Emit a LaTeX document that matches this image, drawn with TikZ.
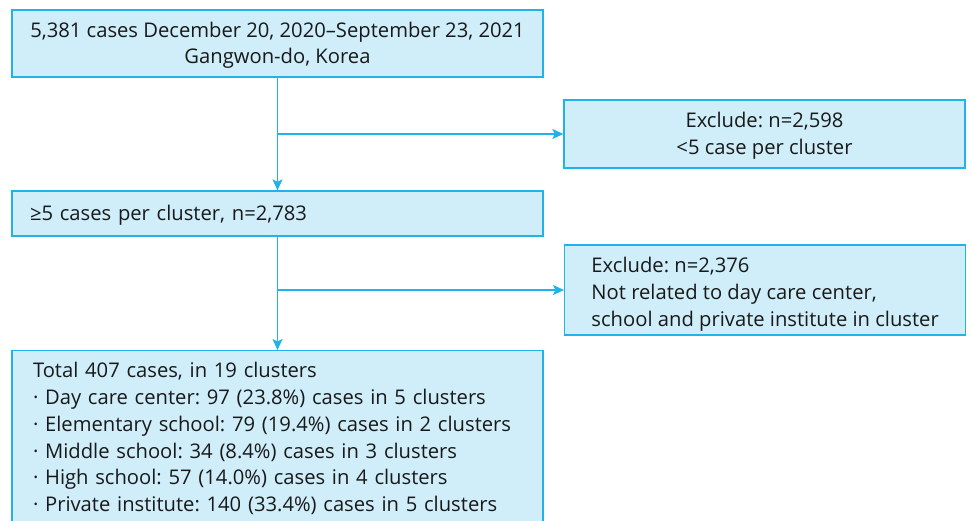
\documentclass[tikz,border=0pt]{standalone}
\usepackage{fontspec}
\setmainfont{Open Sans}
\usetikzlibrary{arrows.meta, positioning}

\definecolor{boxfill}{RGB}{207,238,250}
\definecolor{boxline}{RGB}{32,178,232}

\begin{document}
\frenchspacing
\begin{tikzpicture}[x=1pt, y=-1pt,
  box/.style={draw=boxline, fill=boxfill, line width=1.3pt, rectangle,
    font=\fontsize{20.2}{26.8}\selectfont, text=black!90, inner ysep=0pt},
  arr/.style={draw=boxline, line width=1.3pt, -{Stealth[length=11pt, width=10pt, inset=2.5pt]}}]
  \clip (0,0) rectangle (972,520);
  \fill[white] (0,0) rectangle (972,520);

  \node[box, minimum width=531pt, minimum height=67pt, align=center] (start) at (277.5,43.5)
    {\rule{0pt}{19pt}5,381 cases December 20, 2020--September 23, 2021\\Gangwon-do, Korea};
  \node[box, minimum width=401pt, minimum height=68pt, align=center] (excl1) at (764.5,134)
    {\rule{0pt}{19pt}Exclude: n=2,598\\<5 case per cluster};
  \node[box, inner xsep=18pt, text width=495pt, minimum height=45pt, align=left] (clus) at (277.5,213.5)
    {\rule{0pt}{18pt}≥5 cases per cluster, n=2,783};
  \node[box, anchor=west, inner xsep=22pt, minimum width=401pt, minimum height=90pt, align=left] (excl2) at (564,290)
    {\rule{0pt}{24pt}Exclude: n=2,376\\Not related to day care center,\\school and private institute in cluster};
  \node[box, anchor=north, inner xsep=21pt, text width=489pt, minimum height=176pt, align=left] (total) at (277.5,350)
    {Total 407 cases, in 19 clusters\\
     \textperiodcentered\ Day care center: 97 (23.8\%) cases in 5 clusters\\
     \textperiodcentered\ Elementary school: 79 (19.4\%) cases in 2 clusters\\
     \textperiodcentered\ Middle school: 34 (8.4\%) cases in 3 clusters\\
     \textperiodcentered\ High school: 57 (14.0\%) cases in 4 clusters\\
     \textperiodcentered\ Private institute: 140 (33.4\%) cases in 5 clusters};

  \draw[arr] (start.south) -- (clus.north);
  \draw[arr] (start.south |- excl1.west) -- (excl1.west);
  \draw[arr] (clus.south) -- (total.north);
  \draw[arr] (clus.south |- excl2.west) -- (excl2.west);
\end{tikzpicture}
\end{document}
